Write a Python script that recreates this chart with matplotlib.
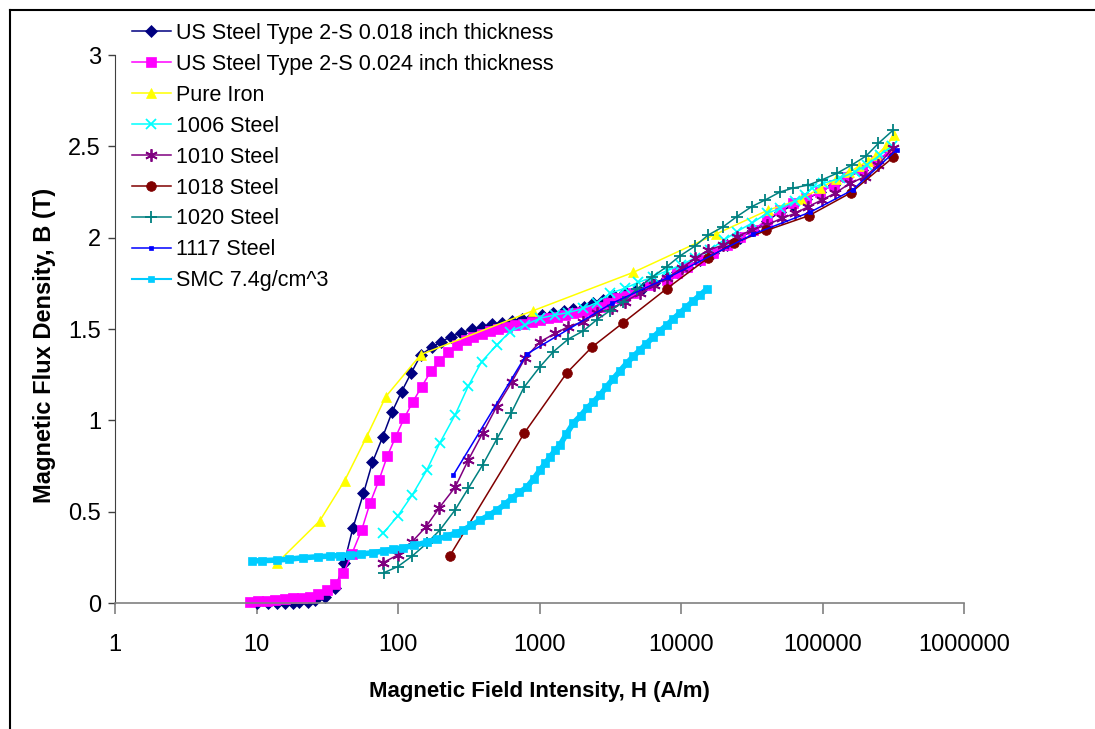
import numpy as np
import matplotlib
matplotlib.use("Agg")
import matplotlib.pyplot as plt
from matplotlib.lines import Line2D
from matplotlib.ticker import FixedLocator, FuncFormatter, NullLocator

plt.rcParams['font.family'] = ['Liberation Sans', 'DejaVu Sans']

# --- data (H in A/m, B in T) ---
us018_h = [10, 12, 14, 16, 18, 20, 23, 26, 30.5, 36, 41.7, 48, 57, 66, 78, 91, 106, 124, 145,
           173, 201, 237, 280, 332, 391, 459, 541, 640, 750, 880, 1040, 1254, 1480, 1735, 2050,
           2400, 2825, 3350, 4000, 4700, 5420, 6400, 7900, 9300, 11000, 13600, 16900, 21000,
           26000, 32400, 40300, 50000, 62000, 77000, 96000, 120000, 150000, 190000, 240000, 300000]
us018_b = [0, 0, 0, 0, 0, 0.003, 0.008, 0.018, 0.035, 0.08, 0.22, 0.41, 0.60, 0.77, 0.91, 1.047,
           1.157, 1.26, 1.358, 1.40, 1.43, 1.458, 1.48, 1.498, 1.513, 1.525, 1.535, 1.545, 1.555,
           1.565, 1.575, 1.586, 1.597, 1.608, 1.622, 1.64, 1.659, 1.68, 1.70, 1.71, 1.725, 1.75,
           1.78, 1.81, 1.84, 1.88, 1.915, 1.96, 2.0, 2.04, 2.09, 2.14, 2.18, 2.21, 2.25, 2.29,
           2.33, 2.37, 2.42, 2.47]

us024_h = [9, 10.3, 11.8, 13.6, 15.9, 18.2, 20.8, 23.9, 27.3, 31.3, 35.9, 41.1, 47.1, 55.4, 63.4,
           73.4, 84.1, 96.3, 111, 127, 147, 171, 196, 227, 260, 300, 340, 390, 447, 512, 586, 671,
           770, 881, 1010, 1153, 1320, 1514, 1735, 1990, 2275, 2677, 3065, 3510, 4000, 4600, 6040,
           7920, 9330, 10970, 13620, 16900, 21000, 26100, 32400, 40300, 50100, 62200, 77000,
           96000, 120000, 150000, 190000, 240000, 300000]
us024_b = [0.007, 0.013, 0.013, 0.015, 0.02, 0.025, 0.03, 0.035, 0.05, 0.07, 0.104, 0.163, 0.268,
           0.40, 0.546, 0.673, 0.805, 0.91, 1.014, 1.10, 1.184, 1.27, 1.325, 1.372, 1.41, 1.44,
           1.458, 1.472, 1.487, 1.50, 1.51, 1.52, 1.53, 1.54, 1.55, 1.559, 1.568, 1.577, 1.586,
           1.595, 1.604, 1.622, 1.64, 1.67, 1.68, 1.695, 1.741, 1.768, 1.805, 1.841, 1.878, 1.914,
           1.96, 2.005, 2.042, 2.097, 2.15, 2.188, 2.215, 2.25, 2.29, 2.33, 2.37, 2.42, 2.475]

iron_h = [14, 28, 42, 60, 82, 145, 900, 4600, 17700, 41000, 70000, 96000, 125000, 155000,
          180000, 210000, 240000, 280000, 320000]
iron_b = [0.22, 0.45, 0.67, 0.91, 1.13, 1.36, 1.60, 1.81, 2.02, 2.15, 2.21, 2.27, 2.32, 2.36,
          2.39, 2.42, 2.45, 2.50, 2.56]

s1006_h = [78.7, 99.5, 126, 160, 198, 253, 314, 390, 498, 618, 789, 1009, 1288, 1600, 2042, 2535,
           3150, 4000, 5000, 6370, 8000, 10000, 12600, 16000, 20000, 24760, 31600, 40300, 50100,
           63900, 75000, 83800, 101000, 133000, 170000, 205000, 255000, 308000]
s1006_b = [0.382, 0.476, 0.591, 0.728, 0.878, 1.029, 1.188, 1.321, 1.412, 1.485, 1.522, 1.559,
           1.577, 1.59, 1.613, 1.644, 1.695, 1.723, 1.755, 1.786, 1.82, 1.85, 1.89, 1.935, 1.985,
           2.033, 2.079, 2.133, 2.16, 2.20, 2.235, 2.27, 2.297, 2.325, 2.361, 2.398, 2.452, 2.50]

s1010_h = [78.7, 99.5, 126, 158, 196, 253, 314, 396, 498, 637, 790, 1009, 1288, 1600, 2042, 2535,
           3237, 4000, 5130, 6400, 7920, 10100, 12560, 15600, 19900, 24760, 31600, 40300, 51400,
           63900, 79400, 98600, 122500, 156000, 200000, 248000, 313000]
s1010_b = [0.221, 0.263, 0.336, 0.418, 0.522, 0.633, 0.783, 0.929, 1.075, 1.21, 1.34, 1.43, 1.476,
           1.513, 1.54, 1.586, 1.613, 1.65, 1.695, 1.74, 1.778, 1.832, 1.887, 1.932, 1.96, 2.005,
           2.042, 2.069, 2.106, 2.133, 2.17, 2.206, 2.243, 2.297, 2.334, 2.398, 2.489]

s1018_h = [233, 780, 1560, 2340, 3910, 7900, 15600, 23500, 40200, 80000, 158000, 316000]
s1018_b = [0.26, 0.93, 1.26, 1.40, 1.535, 1.72, 1.89, 1.97, 2.04, 2.12, 2.245, 2.44]

s1020_h = [79.6, 99.5, 126, 160, 198, 253, 314, 396, 498, 629, 777, 1009, 1254, 1600, 2042, 2535,
           3150, 3910, 4900, 6190, 7920, 9830, 12560, 15600, 19900, 24760, 31600, 39250, 50100,
           62200, 79400, 98600, 126000, 161000, 203000, 248000, 316000]
s1020_b = [0.166, 0.199, 0.257, 0.327, 0.40, 0.509, 0.628, 0.755, 0.896, 1.038, 1.181, 1.294,
           1.376, 1.445, 1.49, 1.55, 1.60, 1.649, 1.72, 1.782, 1.841, 1.90, 1.954, 2.015, 2.06,
           2.115, 2.17, 2.206, 2.25, 2.272, 2.288, 2.316, 2.352, 2.398, 2.447, 2.516, 2.589]

s1117_h = [246, 811, 3237, 8130, 32500, 82000, 163000, 334000]
s1117_b = [0.70, 1.362, 1.64, 1.782, 2.02, 2.14, 2.261, 2.48]

smc_h = [9.3, 11, 13.9, 17, 21.4, 27, 33, 39, 45.8, 55, 67, 80, 92.6, 109, 130, 160, 190, 221,
         255, 290, 330, 380, 440, 501, 570, 640, 720, 816, 910, 1009, 1100, 1186, 1290, 1396,
         1550, 1735, 1950, 2168, 2400, 2677, 2950, 3306, 3700, 4150, 4600, 5130, 5700, 6370,
         7100, 7960, 8800, 9830, 10900, 12170, 13600, 15280]
smc_b = [0.23, 0.232, 0.235, 0.24, 0.248, 0.253, 0.257, 0.26, 0.263, 0.268, 0.276, 0.285, 0.295,
         0.303, 0.315, 0.333, 0.35, 0.365, 0.383, 0.40, 0.425, 0.454, 0.48, 0.509, 0.54, 0.575,
         0.605, 0.635, 0.68, 0.728, 0.765, 0.80, 0.835, 0.865, 0.925, 0.985, 1.025, 1.067, 1.10,
         1.139, 1.18, 1.226, 1.27, 1.314, 1.35, 1.385, 1.42, 1.456, 1.49, 1.522, 1.555, 1.588,
         1.62, 1.653, 1.685, 1.719]

series = [
    ("US Steel Type 2-S 0.018 inch thickness", us018_h, us018_b, '#000080', 'D', 6),
    ("US Steel Type 2-S 0.024 inch thickness", us024_h, us024_b, '#FF00FF', 's', 6.5),
    ("Pure Iron", iron_h, iron_b, '#FFFF00', '^', 7.5),
    ("1006 Steel", s1006_h, s1006_b, '#00FFFF', 'x', 7),
    ("1010 Steel", s1010_h, s1010_b, '#800080', (6, 2, 0), 9),
    ("1018 Steel", s1018_h, s1018_b, '#800000', 'o', 7),
    ("1020 Steel", s1020_h, s1020_b, '#008080', '+', 9),
    ("1117 Steel", s1117_h, s1117_b, '#0000FF', 's', 3),
    ("SMC 7.4g/cm^3", smc_h, smc_b, '#00CCFF', 's', 5.5),
]

fig = plt.figure(figsize=(10.95, 7.29), dpi=100)
ax = fig.add_axes([115 / 1095, 1 - 603 / 729, (964 - 115) / 1095, (603 - 55) / 729])

handles = []
for name, h, b, col, mk, ms in series:
    smc = name.startswith("SMC")
    lw = 4 if smc else 1.1
    mew = 1.3 if mk in ('x', '+') or isinstance(mk, tuple) else 0.5
    ax.plot(h, b, color=col, marker=mk, markersize=ms, markeredgecolor=col,
            markerfacecolor=col, markeredgewidth=mew, linewidth=lw, clip_on=False)
    # legend swatch: thin line with one marker, as in the reference
    handles.append(Line2D([], [], color=col, marker=mk, markersize=4 if smc else ms,
                          markeredgecolor=col, markerfacecolor=col, markeredgewidth=mew,
                          linewidth=1.5 if smc else 1.1, label=name))

ax.set_xscale('log')
ax.set_xlim(1, 1e6)
ax.set_ylim(0, 3)
ax.xaxis.set_major_locator(FixedLocator([1, 10, 100, 1000, 10000, 100000, 1000000]))
ax.xaxis.set_minor_locator(NullLocator())
ax.xaxis.set_major_formatter(FuncFormatter(lambda v, p: f"{int(round(v))}"))
ax.set_yticks([0, 0.5, 1, 1.5, 2, 2.5, 3])
ax.yaxis.set_major_formatter(FuncFormatter(lambda v, p: f"{v:g}"))

for s in ('top', 'right'):
    ax.spines[s].set_visible(False)
ax.spines['bottom'].set_color('#808080')
ax.spines['bottom'].set_linewidth(1.2)
ax.spines['left'].set_color('#404040')
ax.tick_params(axis='x', direction='out', length=8, width=1.2, color='#808080', pad=14,
               labelsize=17)
ax.tick_params(axis='y', direction='out', length=5, width=1, color='#404040', pad=5,
               labelsize=17)

fig.text(539.5 / 1095, 1 - 692 / 729, "Magnetic Field Intensity, H (A/m)", ha='center',
         va='center', fontsize=16, fontweight='bold')
fig.text(45 / 1095, 1 - 345 / 729, "Magnetic Flux Density, B (T)", ha='center', va='center',
         rotation=90, fontsize=17, fontweight='bold')

fig.legend(handles=handles, loc='upper left', bbox_to_anchor=(132 / 1095, 1 - 23 / 729),
           frameon=False, fontsize=15.5, borderpad=0, borderaxespad=0, handlelength=1.8,
           handletextpad=0.25, labelspacing=0.46)

# outer frame (only left and top edges are visible in the reference)
fig.add_artist(Line2D([10 / 1095, 10 / 1095], [0, 1 - 10 / 729], color='black', linewidth=1.5))
fig.add_artist(Line2D([10 / 1095, 1], [1 - 10 / 729, 1 - 10 / 729], color='black', linewidth=1.5))

fig.savefig("out.png", dpi=100)
